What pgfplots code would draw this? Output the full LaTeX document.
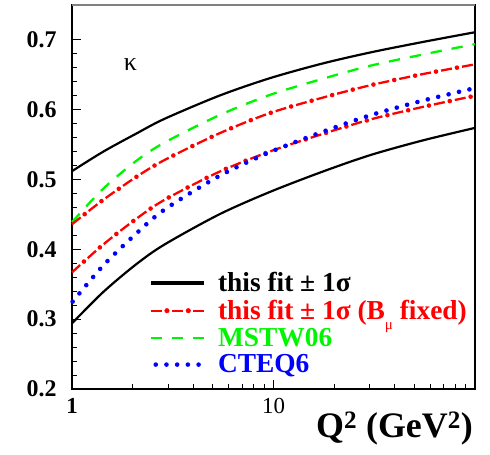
\documentclass[border=0pt]{standalone}
\usepackage{fontspec}
\setmainfont{Liberation Serif}
\usepackage{pgfplots}
\pgfplotsset{compat=1.18}
\definecolor{cred}{RGB}{255,0,0}
\definecolor{cgreen}{RGB}{0,245,0}
\definecolor{cblue}{RGB}{0,0,255}
\begin{document}
\begin{tikzpicture}
\path (-72bp,-66bp) rectangle (418bp,389bp);
\begin{axis}[
 at={(0,0)}, anchor=south west,
 scale only axis, width=403bp, height=384bp,
 xmode=log, xmin=1, xmax=100, ymin=0.2, ymax=0.75,
 xtick={1,10}, xticklabels={{\bfseries 1},{10}},
 minor xtick={2,3,4,5,6,7,8,9,20,30,40,50,60,70,80,90},
 ytick={0.2,0.3,0.4,0.5,0.6,0.7}, yticklabels={0.2,0.3,0.4,0.5,0.6,0.7},
 minor y tick num=4,
 tick align=inside, xtick pos=bottom, ytick pos=left,
 major tick length=9bp, minor tick length=5bp,
 tick style={black, line width=1bp},
 axis line style={black, line width=1.2bp},
 yticklabel style={font=\fontsize{24}{24}\selectfont\bfseries, xshift=-12bp},
 xticklabel style={font=\fontsize{23}{23}\selectfont, yshift=-6bp},
 xlabel={\bfseries Q\textsuperscript{2} (GeV\textsuperscript{2})},
 xlabel style={font=\fontsize{36}{36}\selectfont, at={(rel axis cs:1,0)}, anchor=north east, inner sep=0pt, yshift=-23bp, xshift=-2bp},
 clip=false,
 legend cell align=left,
 legend style={draw=none, fill=none, at={(rel axis cs:0.19,0.309)}, anchor=north west,
   font=\fontsize{27.5}{27.5}\selectfont\bfseries, row sep=3bp, inner sep=0pt,
   /tikz/every odd column/.append style={column sep=10bp}},
]
% legend images
\addlegendimage{legend image code/.code={\draw[black, line width=4bp] (0bp,0bp) -- (53bp,0bp);}}
\addlegendentry{\textcolor{black}{this fit ± 1σ}}
\addlegendimage{legend image code/.code={\draw[cred, line width=2.3bp, dash pattern=on 11bp off 10.3bp] (0bp,0bp) -- (53bp,0bp);
  \fill[cred] (16.2bp,0bp) circle (2.3bp); \fill[cred] (37.5bp,0bp) circle (2.3bp);}}
\addlegendentry{\textcolor{cred}{this fit ± 1σ (B\raisebox{-0.35em}{\fontsize{15}{15}\selectfont\mdseries μ} fixed)}}
\addlegendimage{legend image code/.code={\draw[cgreen, line width=2.3bp, dash pattern=on 11.3bp off 10bp] (0bp,0bp) -- (53bp,0bp);}}
\addlegendentry{\textcolor{cgreen}{MSTW06}}
\addlegendimage{legend image code/.code={\draw[cblue, line width=4.6bp, line cap=round, dash pattern=on 0bp off 10.7bp] (5bp,0bp) -- (53bp,0bp);}}
\addlegendentry{\textcolor{cblue}{CTEQ6}}

% this fit +- 1 sigma (upper, lower)
\addplot[forget plot, black, line width=2.2bp, smooth] coordinates {(1,0.512) (1.43,0.540) (2.09,0.566) (2.88,0.587) (5.37,0.620) (9.55,0.645) (17.4,0.666) (30.2,0.682) (55,0.697) (100,0.711)};
\addplot[forget plot, black, line width=2.2bp, smooth] coordinates {(1,0.294) (1.43,0.339) (2.09,0.379) (2.88,0.407) (5.37,0.450) (9.55,0.482) (17.4,0.511) (30.2,0.535) (55,0.556) (100,0.574)};
% MSTW06
\addplot[forget plot, cgreen, line width=2.3bp, smooth, dash pattern=on 11.3bp off 10bp] coordinates {(1,0.439) (1.43,0.487) (2.09,0.527) (2.88,0.553) (5.37,0.592) (9.55,0.621) (17.4,0.644) (30.2,0.663) (55,0.679) (100,0.694)};
% this fit +- 1 sigma (B_mu fixed)
\addplot[forget plot, cred, line width=2.3bp, smooth, dash pattern=on 11bp off 10.3bp] coordinates {(1,0.436) (1.43,0.471) (2.09,0.504) (2.88,0.528) (5.37,0.566) (9.55,0.595) (17.4,0.617) (30.2,0.635) (55,0.651) (100,0.665)};
\addplot[forget plot, cred, line width=4.6bp, line cap=round, smooth, dash pattern=on 0bp off 21.3bp, dash phase=5.15bp] coordinates {(1,0.436) (1.43,0.471) (2.09,0.504) (2.88,0.528) (5.37,0.566) (9.55,0.595) (17.4,0.617) (30.2,0.635) (55,0.651) (100,0.665)};
\addplot[forget plot, cred, line width=2.3bp, smooth, dash pattern=on 11bp off 10.3bp] coordinates {(1,0.367) (1.43,0.407) (2.09,0.444) (2.88,0.471) (5.37,0.511) (9.55,0.540) (17.4,0.565) (30.2,0.586) (55,0.604) (100,0.620)};
\addplot[forget plot, cred, line width=4.6bp, line cap=round, smooth, dash pattern=on 0bp off 21.3bp, dash phase=5.15bp] coordinates {(1,0.367) (1.43,0.407) (2.09,0.444) (2.88,0.471) (5.37,0.511) (9.55,0.540) (17.4,0.565) (30.2,0.586) (55,0.604) (100,0.620)};
% CTEQ6
\addplot[forget plot, cblue, line width=4.6bp, line cap=round, smooth, dash pattern=on 0bp off 10.7bp, dash phase=-1bp] coordinates {(1,0.324) (1.43,0.377) (2.09,0.423) (2.88,0.457) (5.37,0.505) (9.55,0.539) (17.4,0.568) (30.2,0.592) (55,0.613) (100,0.631)};

\node[font=\fontsize{26}{26}\selectfont] at (rel axis cs:0.145,0.844) {κ};
\draw[gray, line width=1.2bp] (rel axis cs:0,1) -- (rel axis cs:1,1);
\end{axis}
\end{tikzpicture}
\end{document}
